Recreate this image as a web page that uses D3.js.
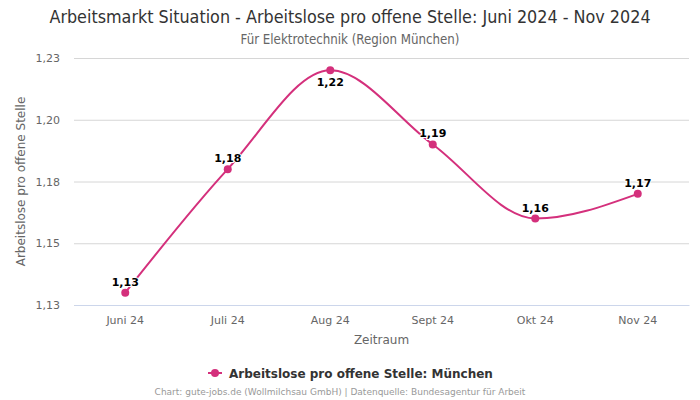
<!DOCTYPE html>
<html><head><meta charset="utf-8">
<script src="https://cdn.jsdelivr.net/npm/d3@7"></script>
<style>body{margin:0;background:#fff}svg{display:block}</style>
</head><body>
<svg id="c" width="700" height="400"></svg>
<script>
const categories = ["Juni 24","Juli 24","Aug 24","Sept 24","Okt 24","Nov 24"];
const values = [1.13,1.18,1.22,1.19,1.16,1.17];
const yTicks = [1.125,1.15,1.175,1.2,1.225];
const seriesName = "Arbeitslose pro offene Stelle: München";

const W=700,H=400, m={l:74,r:11,t:58,b:95};
const svg=d3.select("#c");
const color="#d4307c";
const fmt=v=>d3.format(".2f")(v).replace(".",",");

const x=d3.scaleBand().domain(categories).range([m.l,W-m.r]);
const y=d3.scaleLinear().domain([1.125,1.225]).range([H-m.b,m.t]);
const cx=d=>x(d)+x.bandwidth()/2;

svg.append("text").attr("x",350).attr("y",23).attr("text-anchor","middle")
 .attr("font-family","DejaVu Sans Condensed, DejaVu Sans").attr("font-size",17.8).attr("fill","#333")
 .text("Arbeitsmarkt Situation - Arbeitslose pro offene Stelle: Juni 2024 - Nov 2024");
svg.append("text").attr("x",350).attr("y",44).attr("text-anchor","middle")
 .attr("font-family","DejaVu Sans Condensed, DejaVu Sans").attr("font-size",13.2).attr("fill","#666")
 .text("Für Elektrotechnik (Region München)");

// grid
const gy=svg.append("g").attr("transform",`translate(${m.l},0)`)
 .call(d3.axisLeft(y).tickValues(yTicks).tickSize(-(W-m.l-m.r)).tickFormat(fmt).tickPadding(14));
gy.select(".domain").remove();
gy.selectAll("line").attr("stroke","#d6d6d6");
gy.selectAll("text").attr("font-family","DejaVu Sans").attr("font-size",11).attr("fill","#666");

const gx=svg.append("g").attr("transform",`translate(0,${H-m.b})`)
 .call(d3.axisBottom(x).tickSize(0).tickPadding(11));
gx.select(".domain").attr("stroke","#ccd6eb");
gx.selectAll("text").attr("font-family","DejaVu Sans").attr("font-size",11).attr("fill","#666");

svg.append("text").attr("x",(m.l+W-m.r)/2).attr("y",344).attr("text-anchor","middle")
 .attr("font-family","DejaVu Sans").attr("font-size",12).attr("fill","#666").text("Zeitraum");
svg.append("text").attr("transform",`translate(25,${(m.t+H-m.b)/2}) rotate(-90)`).attr("text-anchor","middle")
 .attr("font-family","DejaVu Sans").attr("font-size",12).attr("fill","#666").text("Arbeitslose pro offene Stelle");

const line=d3.line().x((d,i)=>cx(categories[i])).y(d=>y(d)).curve(d3.curveMonotoneX);
svg.append("path").datum(values).attr("d",line).attr("fill","none").attr("stroke",color).attr("stroke-width",2);
svg.selectAll("circle.p").data(values).join("circle").attr("class","p")
 .attr("cx",(d,i)=>cx(categories[i])).attr("cy",d=>y(d)).attr("r",4).attr("fill",color);
const maxV=d3.max(values);
svg.selectAll("text.lbl").data(values).join("text").attr("class","lbl")
 .attr("x",(d,i)=>cx(categories[i])).attr("y",d=>d===maxV?y(d)+16:y(d)-7)
 .attr("text-anchor","middle").attr("font-family","DejaVu Sans").attr("font-size",11).attr("font-weight","bold")
 .attr("fill","#000").attr("stroke","#fff").attr("stroke-width",2).attr("paint-order","stroke").text(fmt);

// legend
const lg=svg.append("g");
lg.append("line").attr("x1",208).attr("x2",222).attr("y1",373).attr("y2",373).attr("stroke",color).attr("stroke-width",2);
lg.append("circle").attr("cx",215).attr("cy",373).attr("r",4).attr("fill",color);
lg.append("text").attr("x",229).attr("y",377.5).attr("font-family","DejaVu Sans").attr("font-size",12).attr("font-weight","bold")
 .attr("fill","#333").text(seriesName);

svg.append("text").attr("x",340).attr("y",395).attr("text-anchor","middle").attr("font-family","DejaVu Sans")
 .attr("font-size",9).attr("fill","#999").text("Chart: gute-jobs.de (Wollmilchsau GmbH) | Datenquelle: Bundesagentur für Arbeit");
</script>
</body></html>
